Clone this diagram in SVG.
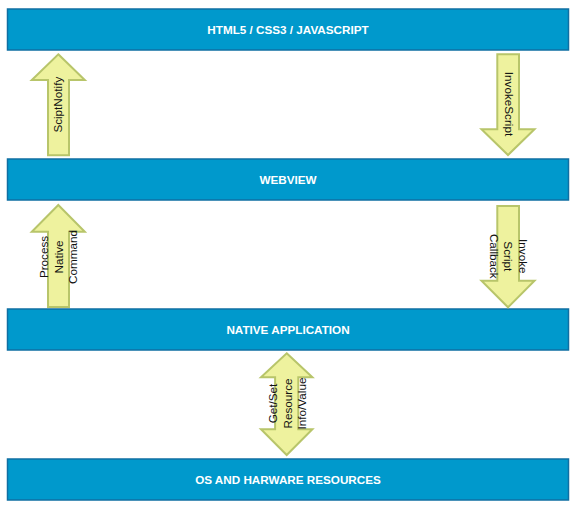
<svg xmlns="http://www.w3.org/2000/svg" width="587" height="520" viewBox="0 0 587 520">
<style>
.bar{fill:#0099cc;stroke:#0f6fa3;stroke-width:1.5}
.bt{font-family:"Liberation Sans",Arial,sans-serif;font-size:11.7px;font-weight:bold;fill:#ffffff;text-anchor:middle}
.arr{fill:#eef29e;stroke:#b8c56a;stroke-width:2;stroke-linejoin:miter}
.at{font-family:"Liberation Sans",Arial,sans-serif;font-size:11.7px;fill:#111111;text-anchor:middle}
</style>
<rect width="587" height="520" fill="#ffffff"/>
<g id="html5">
<rect class="bar" x="7.5" y="9" width="561" height="41"/>
<text class="bt" x="288" y="33.8">HTML5 / CSS3 / JAVASCRIPT</text>
</g>
<g id="webview">
<rect class="bar" x="7.5" y="159" width="561" height="41"/>
<text class="bt" x="288" y="183.8">WEBVIEW</text>
</g>
<g id="native">
<rect class="bar" x="7.5" y="309" width="561" height="41"/>
<text class="bt" x="288" y="333.8">NATIVE APPLICATION</text>
</g>
<g id="os">
<rect class="bar" x="7.5" y="459" width="561" height="41"/>
<text class="bt" x="288" y="483.8">OS AND HARWARE RESOURCES</text>
</g>
<g id="connectors">
<g id="scriptnotify">
<path class="arr" d="M58.3,54.3 L84.8,80 L69,80 L69,155.3 L48,155.3 L48,80 L31.8,80 Z"/>
<text class="at" transform="translate(61.5,104.7) rotate(-90)">SciptNotify</text>
</g>
<g id="invokescript">
<path class="arr" d="M497.3,54.3 L519,54.3 L519,129.3 L534.5,129.3 L508,155 L481.5,129.3 L497.3,129.3 Z"/>
<text class="at" transform="translate(504.8,104) rotate(90)">InvokeScript</text>
</g>
<g id="processnative">
<path class="arr" d="M58.3,205 L84.8,231.7 L69,231.7 L69,307 L48,307 L48,231.7 L31.8,231.7 Z"/>
<text class="at" transform="translate(48.4,257) rotate(-90)">Process</text>
<text class="at" transform="translate(62.9,257) rotate(-90)">Native</text>
<text class="at" transform="translate(77.4,257) rotate(-90)">Command</text>
</g>
<g id="invokecallback">
<path class="arr" d="M497.3,206 L519,206 L519,280.7 L534.5,280.7 L508,307.3 L481.5,280.7 L497.3,280.7 Z"/>
<text class="at" transform="translate(518.5,256.3) rotate(90)">Invoke</text>
<text class="at" transform="translate(504.2,256.3) rotate(90)">Script</text>
<text class="at" transform="translate(489.7,256.3) rotate(90)">Callback</text>
</g>
<g id="getset">
<path class="arr" d="M286.7,353.3 L312.4,377.3 L298.3,377.3 L298.3,429.3 L312.4,429.3 L286.7,455 L261,429.3 L275.1,429.3 L275.1,377.3 L261,377.3 Z"/>
<text class="at" transform="translate(276.8,403.5) rotate(-90)">Get/Set</text>
<text class="at" transform="translate(291.6,403.5) rotate(-90)">Resource</text>
<text class="at" transform="translate(306.4,403.5) rotate(-90)">Info/Value</text>
</g>
</g>
</svg>
